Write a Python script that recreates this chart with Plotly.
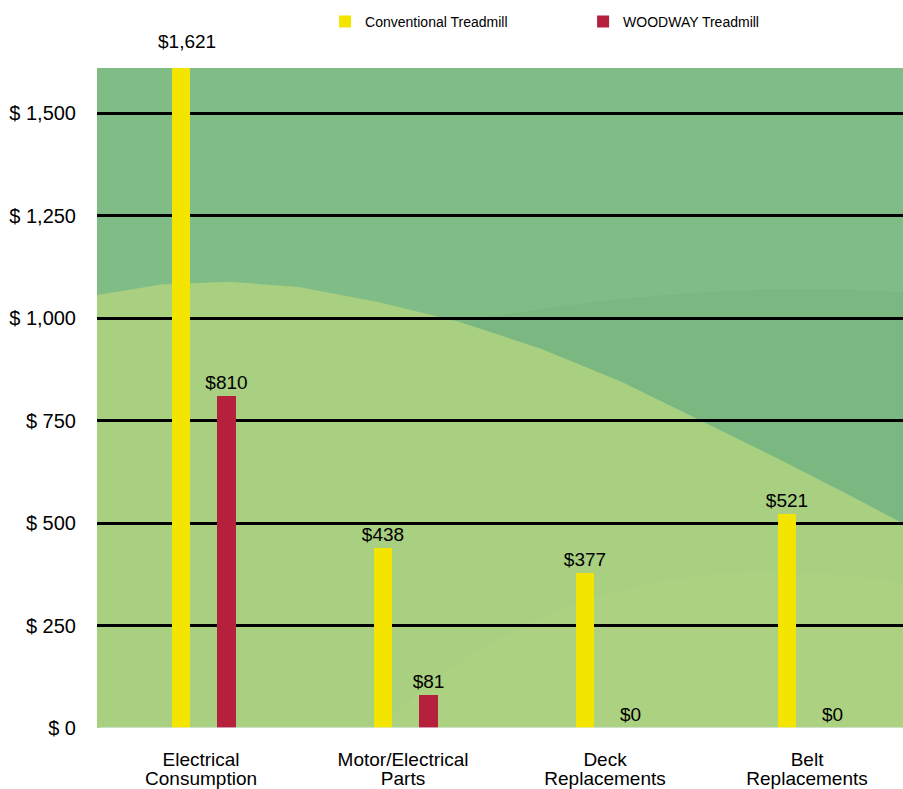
import plotly.graph_objects as go

categories = ["Electrical Consumption", "Motor/Electrical Parts", "Deck Replacements", "Belt Replacements"]
label_line1 = ["Electrical", "Motor/Electrical", "Deck", "Belt"]
label_line2 = ["Consumption", "Parts", "Replacements", "Replacements"]
conventional = [1621, 438, 377, 521]
woodway = [810, 81, 0, 0]
y_ticks = [0, 250, 500, 750, 1000, 1250, 1500]
y_ticktext = ["$ 0", "$ 250", "$ 500", "$ 750", "$ 1,000", "$ 1,250", "$ 1,500"]

YELLOW = "#f4e500"
RED = "#b5203c"
FONT = "Liberation Sans, Arial, sans-serif"
XRANGE = [-0.515, 3.475]
YMAX = 1610


def money(v):
    return "${:,}".format(v)


def outside_text(vals):
    # values above the axis range get their label as an annotation instead
    return [money(v) if v <= YMAX else "" for v in vals]


fig = go.Figure()
fig.add_trace(go.Bar(
    x=categories, y=conventional, name="Conventional Treadmill",
    marker=dict(color=YELLOW, line=dict(width=0)),
    width=0.093, offset=-0.146,
    text=outside_text(conventional), textposition="outside",
    textfont=dict(size=19, color="black", family=FONT),
    constraintext="none", cliponaxis=False,
))
fig.add_trace(go.Bar(
    x=categories, y=woodway, name="WOODWAY Treadmill",
    marker=dict(color=RED, line=dict(width=0)),
    width=0.093, offset=0.081,
    text=outside_text(woodway), textposition="outside",
    textfont=dict(size=19, color="black", family=FONT),
    constraintext="none", cliponaxis=False,
))
# invisible trace carrying the second line of the category labels
fig.add_trace(go.Bar(
    x=categories, y=[0, 0, 0, 0], xaxis="x2", showlegend=False,
    marker=dict(color="rgba(0,0,0,0)"), hoverinfo="skip",
))

annotations = []
for cat, v in zip(categories, conventional):
    if v > YMAX:
        annotations.append(dict(x=cat, y=1, xref="x", yref="paper", text=money(v),
                                showarrow=False, yanchor="bottom", xshift=-14, yshift=14,
                                font=dict(size=19, color="black", family=FONT)))

# background tonal shapes (decoration)
light_pts = [(0, 0.656), (0.08, 0.672), (0.165, 0.676), (0.25, 0.668), (0.35, 0.645),
             (0.45, 0.615), (0.55, 0.575), (0.65, 0.525), (0.75, 0.465), (0.85, 0.405),
             (0.93, 0.355), (1, 0.31)]
path = "M 0,0 " + " ".join("L {},{}".format(x, y) for x, y in light_pts) + " L 1,0 Z"
dark_pts = light_pts[5:]
dark_path = ("M " + " L ".join("{},{}".format(x, y) for x, y in dark_pts)
             + " L 1,0.66 Q 0.75,0.68 0.45,0.615 Z")
shapes = [
    dict(type="path", xref="paper", yref="paper", path=dark_path,
         fillcolor="#6fa877", line=dict(width=0), layer="below", opacity=0.3),
    dict(type="path", xref="paper", yref="paper", path=path,
         fillcolor="#a9cf80", line=dict(width=0), layer="below"),
    dict(type="path", xref="paper", yref="paper",
         path="M 0.35,0 Q 0.6,0.3 1,0.22 L 1,0 Z",
         fillcolor="#b0d482", line=dict(width=0), layer="below", opacity=0.5),
]

fig.update_layout(
    width=903, height=789,
    margin=dict(l=97, r=0, t=68, b=61),
    paper_bgcolor="white",
    plot_bgcolor="#80bd86",
    font=dict(family=FONT, color="black"),
    barmode="overlay",
    bargap=0,
    shapes=shapes,
    annotations=annotations,
    showlegend=True,
    legend=dict(orientation="h", x=0.283, xanchor="left", y=1.07, yanchor="middle",
                font=dict(size=14, color="black"), entrywidth=213, bgcolor="rgba(0,0,0,0)",
                traceorder="normal"),
    xaxis=dict(range=XRANGE, tickmode="array", tickvals=categories, ticktext=label_line1,
               showgrid=False, zeroline=False, showline=False, ticks="",
               tickfont=dict(size=19, color="black"), ticklabelstandoff=18),
    xaxis2=dict(overlaying="x", anchor="y", side="bottom", range=XRANGE,
                tickmode="array", tickvals=categories, ticktext=label_line2,
                showgrid=False, zeroline=False, showline=False, ticks="",
                tickfont=dict(size=19, color="black"), ticklabelstandoff=37),
    yaxis=dict(range=[0, YMAX], tickmode="array", tickvals=y_ticks, ticktext=y_ticktext,
               showgrid=True, gridcolor="black", gridwidth=3, zeroline=False, showline=False,
               ticks="", tickfont=dict(size=20, color="black"), ticklabelstandoff=20),
)

fig.write_html(
    "out.html",
    config={"displayModeBar": False},
    post_script=("document.body.style.margin='0';"
                 "var gd=document.getElementById('{plot_id}');"
                 "Plotly.relayout(gd,{width:903,height:789});"),
)
